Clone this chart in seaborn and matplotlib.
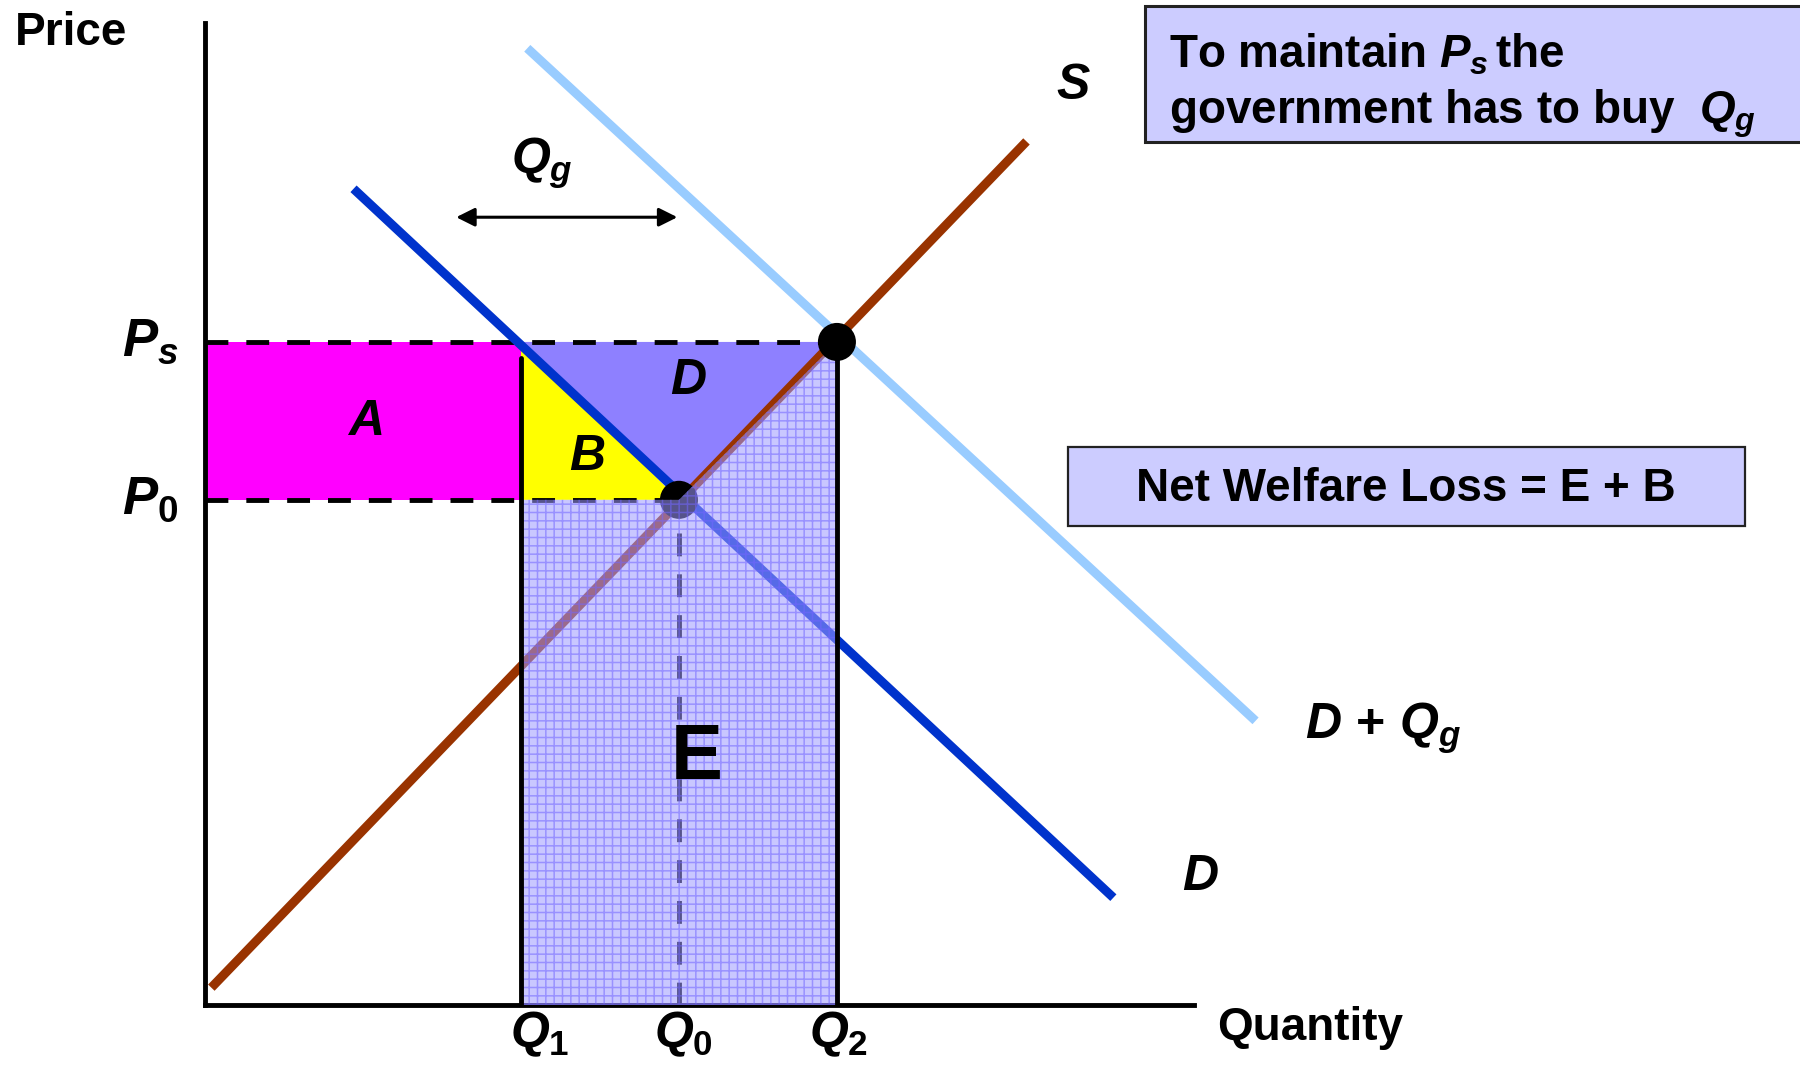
import matplotlib
matplotlib.use("Agg")
import matplotlib.pyplot as plt
from matplotlib.patches import Rectangle
import seaborn as sns

# key quantities / prices
q1, q0, q2 = 2.0, 3.0, 4.0
p0, ps = 3.2, 4.2

# curves (end points)
supply_q = [0.04, 5.2]
supply_p = [0.11, 5.47]
demand_q = [0.94, 5.75]
demand_p = [5.17, 0.68]
dqg_q = [2.04, 6.65]
dqg_p = [6.06, 1.80]

# equilibrium points
eq_q = [q0, q2]
eq_p = [p0, ps]

# shaded areas
area_a_q = [0, q1, q1, 0]
area_a_p = [p0, p0, ps, ps]
area_b_q = [q1, q1, q0]
area_b_p = [p0, ps, p0]
area_d_q = [q1, q2, q0]
area_d_p = [ps, ps, p0]
area_e_q = [q1, q1, q0, q2, q2]
area_e_p = [0, p0, p0, ps, 0]

sns.set_theme(style="white")
plt.rcParams["font.family"] = ["Liberation Sans", "DejaVu Sans"]
plt.rcParams["font.weight"] = "bold"
plt.rcParams["text.color"] = "black"
plt.rcParams["mathtext.fontset"] = "custom"
plt.rcParams["mathtext.rm"] = "Liberation Sans:bold"
plt.rcParams["mathtext.it"] = "Liberation Sans:bold:italic"
plt.rcParams["mathtext.bf"] = "Liberation Sans:bold"
plt.rcParams["mathtext.default"] = "it"
plt.rcParams["hatch.linewidth"] = 1.1

fig = plt.figure(figsize=(18, 10.66), dpi=100)
ax = fig.add_axes([0.1139, 0.0572, 0.5494, 0.9212])
ax.set_xlim(0, 6.26)
ax.set_ylim(0, 6.22)
for side in ["top", "right"]:
    ax.spines[side].set_visible(False)
for side in ["left", "bottom"]:
    ax.spines[side].set_color("black")
    ax.spines[side].set_linewidth(3.5)
ax.set_xticks([])
ax.set_yticks([])
ax.set_xlabel("")
ax.set_ylabel("")

# areas A, B, D
ax.fill(area_a_q, area_a_p, color="#FF00FF", lw=0, zorder=1)
ax.fill(area_b_q, area_b_p, color="#FFFF00", lw=0, zorder=1)
ax.fill(area_d_q, area_d_p, color="#8E80FF", lw=0, zorder=1)

# dashed guides
dash = dict(color="black", lw=3.5, dashes=(4.7, 3.7), zorder=2)
ax.plot([0, q2], [ps, ps], **dash)
ax.plot([0, q0], [p0, p0], **dash)
ax.plot([q0, q0], [0, p0], **dash)

# curves
sns.lineplot(x=dqg_q, y=dqg_p, ax=ax, color="#99CCFF", linewidth=6.5,
             solid_capstyle="butt", zorder=3, clip_on=False)
sns.lineplot(x=demand_q, y=demand_p, ax=ax, color="#0033CC", linewidth=6.5,
             solid_capstyle="butt", zorder=3)
sns.lineplot(x=supply_q, y=supply_p, ax=ax, color="#993300", linewidth=6.5,
             solid_capstyle="butt", zorder=3)

# equilibrium dot at Q0 sits under the E overlay
sns.scatterplot(x=eq_q[:1], y=eq_p[:1], ax=ax, color="black", s=750,
                edgecolor="none", zorder=3.5)

# area E, translucent with grid hatch
ax.fill(area_e_q, area_e_p, facecolor=(0.62, 0.6, 1.0), edgecolor=(0.45, 0.4, 1.0),
        lw=0, alpha=0.55, hatch="++", zorder=4)

# Q1 / Q2 verticals
ax.plot([q1, q1], [0, ps - 0.1], color="black", lw=3.5, zorder=5)
ax.plot([q2, q2], [0, ps], color="black", lw=3.5, zorder=5)

sns.scatterplot(x=eq_q[1:], y=eq_p[1:], ax=ax, color="black", s=750,
                edgecolor="none", zorder=6)

# Qg arrow
ax.annotate("", xy=(2.99, 4.99), xytext=(1.59, 4.99),
            arrowprops=dict(arrowstyle="<|-|>", color="black", lw=2.2,
                            mutation_scale=28, shrinkA=0, shrinkB=0))
ax.text(2.13, 5.33, r"$Q_g$", fontsize=36, ha="center", va="center")

# axis labels
ax.text(-0.17, ps, r"$P_s$", fontsize=38, ha="right", va="center", clip_on=False)
ax.text(-0.17, p0, r"$P_{\mathit{0}}$", fontsize=38, ha="right", va="center", clip_on=False)
ax.text(q1 + 0.12, -0.03, r"$Q_{\mathit{1}}$", fontsize=36, ha="center", va="top")
ax.text(q0 + 0.03, -0.03, r"$Q_{\mathit{0}}$", fontsize=36, ha="center", va="top")
ax.text(q2 + 0.01, -0.03, r"$Q_{\mathit{2}}$", fontsize=36, ha="center", va="top")

# area labels
ax.text(1.01, 3.69, r"$A$", fontsize=36, ha="center", va="center", zorder=7)
ax.text(2.42, 3.47, r"$B$", fontsize=36, ha="center", va="center", zorder=7)
ax.text(3.06, 3.95, r"$D$", fontsize=36, ha="center", va="center", zorder=7)
ax.text(3.11, 1.56, "E", fontsize=56, ha="center", va="center", zorder=7)

# curve labels
ax.text(5.5, 5.82, r"$S$", fontsize=36, ha="center", va="center")
ax.text(6.30, 0.81, r"$D$", fontsize=36, ha="center", va="center")
ax.text(6.96, 1.75, r"$D\ \mathrm{+}\ Q_g$", fontsize=36, ha="left", va="center")

fig.text(0.0083, 0.9578, "Price", fontsize=33, fontweight="bold", va="baseline")
fig.text(0.676, 0.0244, "Quantity", fontsize=33, fontweight="bold", va="baseline")

# note boxes
fig.add_artist(Rectangle((0.6361, 0.8668), 0.38, 0.1276, transform=fig.transFigure,
                         facecolor="#CCCCFF", edgecolor="#222222", lw=2.2))
fig.text(0.6494, 0.9371, r"To maintain $P_s\,$the", fontsize=33, fontweight="bold",
         va="baseline")
fig.text(0.6494, 0.8846, r"government has to buy  $Q_g$", fontsize=33,
         fontweight="bold", va="baseline")

fig.add_artist(Rectangle((0.5933, 0.5066), 0.3761, 0.0741, transform=fig.transFigure,
                         facecolor="#CCCCFF", edgecolor="#222222", lw=1.6))
fig.text(0.7811, 0.5413, "Net Welfare Loss = E + B", fontsize=33, fontweight="bold",
         ha="center", va="center")

fig.savefig("out.png", dpi=100)
